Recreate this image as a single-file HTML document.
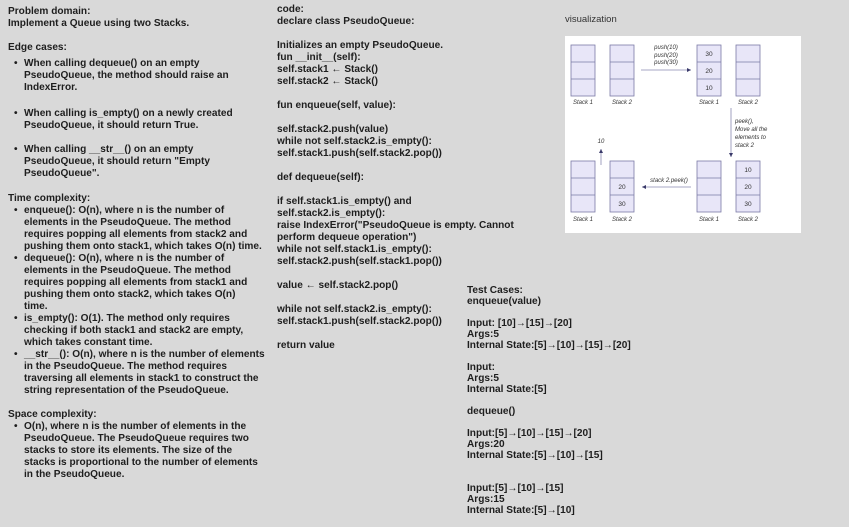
<!DOCTYPE html>
<html><head><meta charset="utf-8"><style>
body{margin:0;width:849px;height:527px;background:#d9d9d9;overflow:hidden;position:relative;font-family:"Liberation Sans",Arial,sans-serif;}
.t{position:absolute;font-size:10.1px;font-weight:bold;color:#1e1e1e;line-height:12px;white-space:pre;}
.b{position:absolute;font-size:10.1px;font-weight:bold;color:#1e1e1e;line-height:12px;white-space:pre;}
.b:before{content:"•";position:absolute;left:-10px;}
</style></head><body>
<div class="t" style="left:8px;top:6px">Problem domain:
Implement a Queue using two Stacks.

Edge cases:</div>
<div class="b" style="left:24px;top:58px">When calling dequeue() on an empty
PseudoQueue, the method should raise an
IndexError.</div>
<div class="b" style="left:24px;top:108px">When calling is_empty() on a newly created
PseudoQueue, it should return True.</div>
<div class="b" style="left:24px;top:144px">When calling __str__() on an empty
PseudoQueue, it should return "Empty
PseudoQueue".</div>
<div class="t" style="left:8px;top:193px">Time complexity:</div>
<div class="b" style="left:24px;top:205px">enqueue(): O(n), where n is the number of
elements in the PseudoQueue. The method
requires popping all elements from stack2 and
pushing them onto stack1, which takes O(n) time.</div>
<div class="b" style="left:24px;top:253px">dequeue(): O(n), where n is the number of
elements in the PseudoQueue. The method
requires popping all elements from stack1 and
pushing them onto stack2, which takes O(n)
time.</div>
<div class="b" style="left:24px;top:313px">is_empty(): O(1). The method only requires
checking if both stack1 and stack2 are empty,
which takes constant time.</div>
<div class="b" style="left:24px;top:349px">__str__(): O(n), where n is the number of elements
in the PseudoQueue. The method requires
traversing all elements in stack1 to construct the
string representation of the PseudoQueue.</div>
<div class="t" style="left:8px;top:409px">Space complexity:</div>
<div class="b" style="left:24px;top:421px">O(n), where n is the number of elements in the
PseudoQueue. The PseudoQueue requires two
stacks to store its elements. The size of the
stacks is proportional to the number of elements
in the PseudoQueue.</div>

<div class="t" style="left:277px;top:4px">code:
declare class PseudoQueue:

Initializes an empty PseudoQueue.
fun __init__(self):
self.stack1 ← Stack()
self.stack2 ← Stack()

fun enqueue(self, value):

self.stack2.push(value)
while not self.stack2.is_empty():
self.stack1.push(self.stack2.pop())

def dequeue(self):

if self.stack1.is_empty() and
self.stack2.is_empty():
raise IndexError("PseudoQueue is empty. Cannot
perform dequeue operation")
while not self.stack1.is_empty():
self.stack2.push(self.stack1.pop())

value ← self.stack2.pop()

while not self.stack2.is_empty():
self.stack1.push(self.stack2.pop())

return value</div>

<div class="t" style="left:467px;top:285px;line-height:11px">Test Cases:
enqueue(value)

Input: [10]→[15]→[20]
Args:5
Internal State:[5]→[10]→[15]→[20]

Input:
Args:5
Internal State:[5]

dequeue()

Input:[5]→[10]→[15]→[20]
Args:20
Internal State:[5]→[10]→[15]


Input:[5]→[10]→[15]
Args:15
Internal State:[5]→[10]</div>

<div style="position:absolute;left:565px;top:14px;font-size:9.5px;color:#333">visualization</div>
<svg style="position:absolute;left:0;top:0" width="849" height="527">
<defs><marker id="a" markerWidth="6" markerHeight="6" refX="5" refY="3" orient="auto"><path d="M0,0.5 L5,3 L0,5.5z" fill="#3a3a6a"/></marker></defs>
<rect x="565" y="36" width="236" height="197" fill="#fff"/>
<g fill="#e8e6f8" stroke="#7a7aa6" stroke-width="0.8">
<rect x="571" y="45" width="24" height="51"/><line x1="571" y1="62" x2="595" y2="62"/><line x1="571" y1="79" x2="595" y2="79"/>
<rect x="610" y="45" width="24" height="51"/><line x1="610" y1="62" x2="634" y2="62"/><line x1="610" y1="79" x2="634" y2="79"/>
<rect x="697" y="45" width="24" height="51"/><line x1="697" y1="62" x2="721" y2="62"/><line x1="697" y1="79" x2="721" y2="79"/>
<rect x="736" y="45" width="24" height="51"/><line x1="736" y1="62" x2="760" y2="62"/><line x1="736" y1="79" x2="760" y2="79"/>
<rect x="571" y="161" width="24" height="51"/><line x1="571" y1="178" x2="595" y2="178"/><line x1="571" y1="195" x2="595" y2="195"/>
<rect x="610" y="161" width="24" height="51"/><line x1="610" y1="178" x2="634" y2="178"/><line x1="610" y1="195" x2="634" y2="195"/>
<rect x="697" y="161" width="24" height="51"/><line x1="697" y1="178" x2="721" y2="178"/><line x1="697" y1="195" x2="721" y2="195"/>
<rect x="736" y="161" width="24" height="51"/><line x1="736" y1="178" x2="760" y2="178"/><line x1="736" y1="195" x2="760" y2="195"/>
</g>
<g font-family="Liberation Sans,sans-serif" font-size="6.5" fill="#333" text-anchor="middle">
<text x="709" y="56">30</text><text x="709" y="73">20</text><text x="709" y="90">10</text>
<text x="748" y="172">10</text><text x="748" y="189">20</text><text x="748" y="206">30</text>
<text x="622" y="189">20</text><text x="622" y="206">30</text>
</g>
<g font-family="Liberation Sans,sans-serif" font-size="6" font-style="italic" fill="#333" text-anchor="middle">
<text x="583" y="104">Stack 1</text><text x="622" y="104">Stack 2</text><text x="709" y="104">Stack 1</text><text x="748" y="104">Stack 2</text>
<text x="583" y="221">Stack 1</text><text x="622" y="221">Stack 2</text><text x="709" y="221">Stack 1</text><text x="748" y="221">Stack 2</text>
<text x="666" y="49">push(10)</text><text x="666" y="57">push(20)</text><text x="666" y="64">push(30)</text>
<text x="669" y="182">stack 2.peek()</text><text x="601" y="143">10</text>
</g>
<g font-family="Liberation Sans,sans-serif" font-size="6" font-style="italic" fill="#333">
<text x="735" y="123">peek(),</text><text x="735" y="131">Move all the</text><text x="735" y="139">elements to</text><text x="735" y="147">stack 2</text>
</g>
<g stroke="#8a8ab0" stroke-width="0.8">
<line x1="641" y1="70" x2="691" y2="70" marker-end="url(#a)"/>
<line x1="731" y1="108" x2="731" y2="157" marker-end="url(#a)"/>
<line x1="691" y1="187" x2="642" y2="187" marker-end="url(#a)"/>
<line x1="601" y1="165" x2="601" y2="149" marker-end="url(#a)"/>
</g>
</svg>
</body></html>
